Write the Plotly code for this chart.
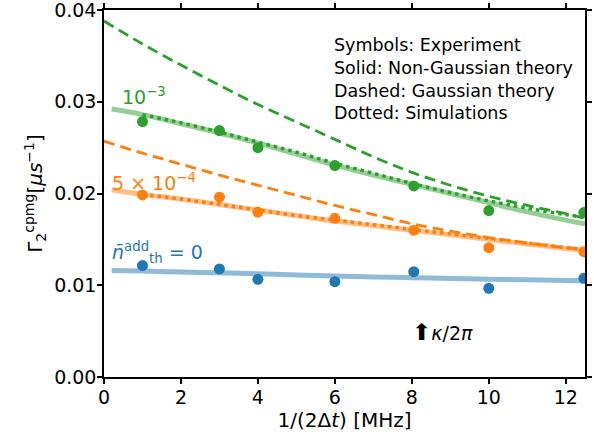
import plotly.graph_objects as go

# experimental points
x_exp = [1, 3, 4, 6, 8.05, 10, 12.47]
blue_exp = [0.01214, 0.01178, 0.01065, 0.01039, 0.01148, 0.00967, 0.01076]
orange_exp = [0.01985, 0.01960, 0.01796, 0.01730, 0.01600, 0.01410, 0.01366]
green_exp = [0.02784, 0.02686, 0.02500, 0.02304, 0.02083, 0.01814, 0.01792]

# theory curves (solid: non-Gaussian)
x_th = [0.2, 1, 2, 3, 4, 5, 6, 7, 8, 9, 10, 11, 12, 12.5]
blue_solid = [0.01160, 0.01155, 0.01145, 0.01135, 0.01125, 0.01112, 0.01100,
              0.01090, 0.01082, 0.01074, 0.01066, 0.01060, 0.01053, 0.01050]
orange_solid = [0.0204, 0.0199, 0.0194, 0.0188, 0.0182, 0.0176, 0.0170,
                0.0165, 0.0160, 0.0155, 0.0150, 0.0145, 0.0140, 0.0138]
green_solid = [0.0292, 0.0286, 0.0276, 0.0266, 0.0255, 0.0243, 0.0231,
               0.0220, 0.0210, 0.0200, 0.0190, 0.0180, 0.0171, 0.0167]

# dashed: Gaussian theory
x_dash = [0, 1, 2, 3, 4, 5, 6, 7, 8, 9, 10, 11, 12, 12.5]
orange_dash = [0.0257, 0.0244, 0.0232, 0.0220, 0.0209, 0.0198, 0.0187,
               0.0177, 0.0167, 0.0159, 0.0152, 0.0146, 0.0141, 0.0139]
green_dash = [0.0388, 0.0363, 0.0340, 0.0318, 0.0297, 0.0278, 0.0259,
              0.0240, 0.0223, 0.0209, 0.0197, 0.0187, 0.0178, 0.0173]

# dotted: simulations
x_dot = [1, 2, 3, 4, 5, 6, 7, 8, 9, 10, 11, 12, 12.5]
orange_dot = [0.0199, 0.0194, 0.0188, 0.0182, 0.0176, 0.0171, 0.0166,
              0.0161, 0.0156, 0.0151, 0.0146, 0.0141, 0.0139]
green_dot = [0.0286, 0.0277, 0.0267, 0.0256, 0.0245, 0.0233, 0.0222,
             0.0211, 0.0201, 0.0192, 0.0184, 0.0177, 0.0174]

x_ticks = [0, 2, 4, 6, 8, 10, 12]
y_ticks = [0.00, 0.01, 0.02, 0.03, 0.04]

BLUE, ORANGE, GREEN = "#1f77b4", "#ff7f0e", "#2ca02c"
FONT = "DejaVu Sans"

fig = go.Figure()
for ys, c in [(blue_solid, "rgba(31,119,180,0.5)"), (orange_solid, "rgba(255,127,14,0.5)"),
              (green_solid, "rgba(44,160,44,0.5)")]:
    fig.add_trace(go.Scatter(x=x_th, y=ys, mode="lines", line=dict(color=c, width=5, shape="spline"),
                             showlegend=False, hoverinfo="skip"))
for ys, c in [(orange_dash, ORANGE), (green_dash, GREEN)]:
    fig.add_trace(go.Scatter(x=x_dash, y=ys, mode="lines",
                             line=dict(color=c, width=2.8, dash="11px,6px", shape="spline"),
                             showlegend=False))
for ys, c in [(orange_dot, ORANGE), (green_dot, GREEN)]:
    fig.add_trace(go.Scatter(x=x_dot, y=ys, mode="lines",
                             line=dict(color=c, width=3.5, dash="3.5px,4px", shape="spline"),
                             showlegend=False))
for ys, c in [(blue_exp, BLUE), (orange_exp, ORANGE), (green_exp, GREEN)]:
    fig.add_trace(go.Scatter(x=x_exp, y=ys, mode="markers",
                             marker=dict(color=c, size=11), showlegend=False, cliponaxis=True))

ann = [
    dict(x=0.42, y=0.0306, text="10<sup>−3</sup>", font=dict(color=GREEN, size=19), xanchor="left"),
    dict(x=0.16, y=0.0213, text="5 × 10<sup>−4</sup>", font=dict(color=ORANGE, size=19), xanchor="left"),
    dict(x=0.16, y=0.0136, text="<i>n̄</i><sup>add</sup><sub>th</sub> = 0", font=dict(color=BLUE, size=19),
         xanchor="left"),
    dict(x=7.95, y=0.0049, text="<span style='font-size:23px'>⬆</span><i>κ</i>/2<i>π</i>",
         font=dict(color="black", size=19), xanchor="left"),
    dict(x=0.475, y=0.937, xref="x domain", yref="y domain",
         text="Symbols: Experiment<br>Solid: Non-Gaussian theory<br>Dashed: Gaussian theory<br>Dotted: Simulations",
         align="left", font=dict(color="black", size=17.5), xanchor="left", yanchor="top"),
]
for a in ann:
    a.setdefault("xref", "x")
    a.setdefault("yref", "y")
    a["showarrow"] = False
    a["font"]["family"] = FONT
    fig.add_annotation(**a)

axis_common = dict(showgrid=False, zeroline=False, showline=True, linecolor="black", linewidth=1.5,
                   ticks="outside", ticklen=5, tickwidth=1.5, tickcolor="black", mirror="ticks",
                   automargin=False, ticklabeloverflow="allow", ticklabelstandoff=-3,
                   tickfont=dict(family=FONT, size=19, color="black"))
fig.update_xaxes(range=[0, 12.5], tickvals=x_ticks, ticktext=[str(v) for v in x_ticks],
                 title=dict(text="1/(2Δ<i>t</i>) [MHz]", font=dict(family=FONT, size=20, color="black"),
                            standoff=0), **axis_common)
fig.update_yaxes(range=[0, 0.04], tickvals=y_ticks, ticktext=[f"{v:.2f}" for v in y_ticks],
                 title=dict(text="Γ<sub>2</sub><sup>cpmg</sup>[<i>μs</i><sup>−1</sup>]",
                            font=dict(family=FONT, size=20, color="black"), standoff=6), **axis_common)
fig.update_layout(width=594, height=438, margin=dict(l=104, r=9, t=10, b=61),
                  plot_bgcolor="white", paper_bgcolor="white", font=dict(family=FONT))
fig.write_html("out.html", config={"displayModeBar": False},
               post_script="document.body.style.margin='0';document.body.style.overflow='hidden';")
